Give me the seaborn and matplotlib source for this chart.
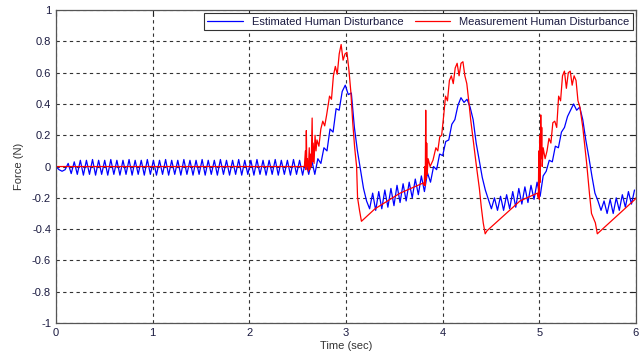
import numpy as np
import pandas as pd
import matplotlib
matplotlib.use("Agg")
import matplotlib.pyplot as plt
import seaborn as sns

# ---- data ----
# estimated disturbance, sampled every half period of the oscillation
BLUE_DT = 0.0315
blue_force = [
    0.0, -0.02, -0.03, -0.02, 0.02, -0.045, 0.03, -0.05, 0.04, -0.055,
    0.04, -0.05, 0.045, -0.055, 0.04, -0.05, 0.04, -0.055, 0.045, -0.05,
    0.04, -0.055, 0.04, -0.05, 0.045, -0.055, 0.04, -0.05, 0.04, -0.055,
    0.045, -0.05, 0.04, -0.055, 0.04, -0.05, 0.045, -0.055, 0.04, -0.05,
    0.04, -0.055, 0.045, -0.05, 0.04, -0.055, 0.04, -0.05, 0.045, -0.055,
    0.04, -0.05, 0.04, -0.055, 0.045, -0.05, 0.04, -0.055, 0.04, -0.05,
    0.045, -0.055, 0.04, -0.05, 0.04, -0.055, 0.045, -0.05, 0.04, -0.055,
    0.04, -0.05, 0.045, -0.055, 0.04, -0.05, 0.04, -0.055, 0.045, -0.05,
    0.04, -0.055, 0.04, -0.05, 0.04, -0.05, 0.05, 0.02, 0.12, 0.10,
    0.24, 0.22, 0.37, 0.36, 0.48, 0.52, 0.46, 0.47, 0.25, 0.10,
    -0.02, -0.14, -0.22, -0.27, -0.17, -0.28, -0.16, -0.27, -0.15, -0.26,
    -0.14, -0.25, -0.12, -0.23, -0.11, -0.22, -0.10, -0.20, -0.08, -0.18,
    -0.06, -0.16, -0.04, -0.10, 0.0, -0.02, 0.08, 0.07, 0.16, 0.17,
    0.27, 0.30, 0.39, 0.44, 0.41, 0.43, 0.38, 0.30, 0.15, 0.04,
    -0.07, -0.15, -0.21, -0.27, -0.20, -0.28, -0.19, -0.28, -0.18, -0.27,
    -0.16, -0.26, -0.14, -0.24, -0.13, -0.23, -0.12, -0.21, -0.10, -0.19,
    -0.06, -0.03, 0.04, 0.03, 0.13, 0.12, 0.22, 0.25, 0.32, 0.36,
    0.40, 0.36, 0.38, 0.30, 0.17, 0.06, -0.06, -0.17, -0.22, -0.28,
    -0.22, -0.30, -0.21, -0.30, -0.20, -0.28, -0.18, -0.26, -0.16, -0.24,
    -0.15,
]
blue_time = np.arange(len(blue_force)) * BLUE_DT

# measured disturbance, irregular samples
red_time = [
    0.0, 2.57, 2.58, 2.585, 2.59, 2.595, 2.60, 2.61, 2.62, 2.625,
    2.63, 2.64, 2.65, 2.655, 2.66, 2.67, 2.68, 2.69, 2.70, 2.72,
    2.74, 2.76, 2.78, 2.80, 2.83, 2.85, 2.87, 2.89, 2.91, 2.93,
    2.95, 2.97, 2.99, 3.01, 3.03, 3.05, 3.07, 3.09, 3.11, 3.12,
    3.14, 3.16, 3.30, 3.56, 3.80, 3.81, 3.815, 3.82, 3.825, 3.83,
    3.835, 3.84, 3.85, 3.87, 3.90, 3.93, 3.95, 3.97, 3.99, 4.01,
    4.03, 4.05, 4.07, 4.09, 4.11, 4.13, 4.15, 4.17, 4.19, 4.21,
    4.23, 4.25, 4.27, 4.29, 4.32, 4.35, 4.38, 4.40, 4.42, 4.44,
    4.46, 4.80, 4.98, 4.99, 4.995, 5.0, 5.005, 5.01, 5.015, 5.02,
    5.025, 5.03, 5.04, 5.06, 5.08, 5.10, 5.12, 5.14, 5.16, 5.18,
    5.20, 5.22, 5.24, 5.26, 5.28, 5.30, 5.32, 5.34, 5.36, 5.38,
    5.40, 5.42, 5.45, 5.49, 5.52, 5.54, 5.56, 5.58, 5.60, 5.99,
    6.0,
]
red_force = [
    0.0, 0.0, 0.10, -0.02, 0.23, 0.0, 0.05, -0.03, 0.12, -0.02,
    0.08, 0.0, 0.31, 0.03, 0.15, 0.02, 0.20, 0.10, 0.17, 0.13,
    0.24, 0.29, 0.26, 0.33, 0.45, 0.43, 0.58, 0.64, 0.59, 0.72,
    0.78, 0.68, 0.72, 0.73, 0.62, 0.48, 0.28, 0.12, 0.0, -0.20,
    -0.28, -0.35, -0.27, -0.17, -0.105, -0.12, 0.0, -0.12, 0.36, -0.08,
    0.15, -0.05, 0.05, 0.0, 0.04, 0.12, 0.10, 0.19, 0.20, 0.32,
    0.45, 0.42, 0.55, 0.58, 0.53, 0.63, 0.66, 0.58, 0.66, 0.67,
    0.58, 0.53, 0.42, 0.30, 0.15, 0.0, -0.14, -0.26, -0.36, -0.43,
    -0.41, -0.22, -0.17, -0.20, 0.10, -0.21, 0.20, -0.10, 0.33, 0.05,
    0.25, 0.0, 0.12, 0.05, 0.10, 0.18, 0.15, 0.28, 0.29, 0.25,
    0.45, 0.42, 0.58, 0.61, 0.50, 0.60, 0.61, 0.52, 0.58, 0.55,
    0.42, 0.38, 0.25, 0.02, -0.18, -0.30, -0.33, -0.36, -0.43, -0.21,
    -0.20,
]

x_ticks = [0, 1, 2, 3, 4, 5, 6]
y_ticks = [-1, -0.8, -0.6, -0.4, -0.2, 0, 0.2, 0.4, 0.6, 0.8, 1]

blue_df = pd.DataFrame({"time": blue_time, "force": blue_force})
red_df = pd.DataFrame({"time": red_time, "force": red_force})

sns.set_style("white")
plt.rcParams["font.family"] = ["Liberation Sans", "DejaVu Sans"]
plt.rcParams["axes.unicode_minus"] = False

fig = plt.figure(figsize=(6.42, 3.58), dpi=100)
ax = fig.add_axes([0.0872, 0.0978, 0.9034, 0.874])

sns.lineplot(data=blue_df, x="time", y="force", estimator=None, sort=False,
             color="#0000ff", linewidth=0.9, label="Estimated Human Disturbance", ax=ax)
sns.lineplot(data=red_df, x="time", y="force", estimator=None, sort=False,
             color="#ff0000", linewidth=0.9, label="Measurement Human Disturbance", ax=ax)

ax.set_xlim(0, 6)
ax.set_ylim(-1, 1)
ax.set_xticks(x_ticks)
ax.set_yticks(y_ticks)
ax.set_xticklabels([f"{v:g}" for v in x_ticks])
ax.set_yticklabels([f"{v:g}" for v in y_ticks])
ax.tick_params(direction="in", length=4, labelsize=8, colors="#222222",
               labelcolor="#1a1a40", top=True, right=True)
ax.grid(True, linestyle=(0, (3, 3)), color="#333333", linewidth=0.8)
for sp in ax.spines.values():
    sp.set_color("#555555")
    sp.set_linewidth(0.9)

ax.set_xlabel("Time (sec)", fontsize=8, color="#333333", labelpad=2)
ax.set_ylabel("Force (N)", fontsize=8, color="#333333", labelpad=6)

leg = ax.legend(loc="upper right", ncol=2, fontsize=8, frameon=True, fancybox=False,
                framealpha=1, edgecolor="#333333", borderaxespad=0.3,
                handlelength=3.2, columnspacing=1.0, borderpad=0.3)
leg.get_frame().set_linewidth(0.8)
for txt in leg.get_texts():
    txt.set_color("#1a1a40")

fig.savefig("out.png", dpi=100)
